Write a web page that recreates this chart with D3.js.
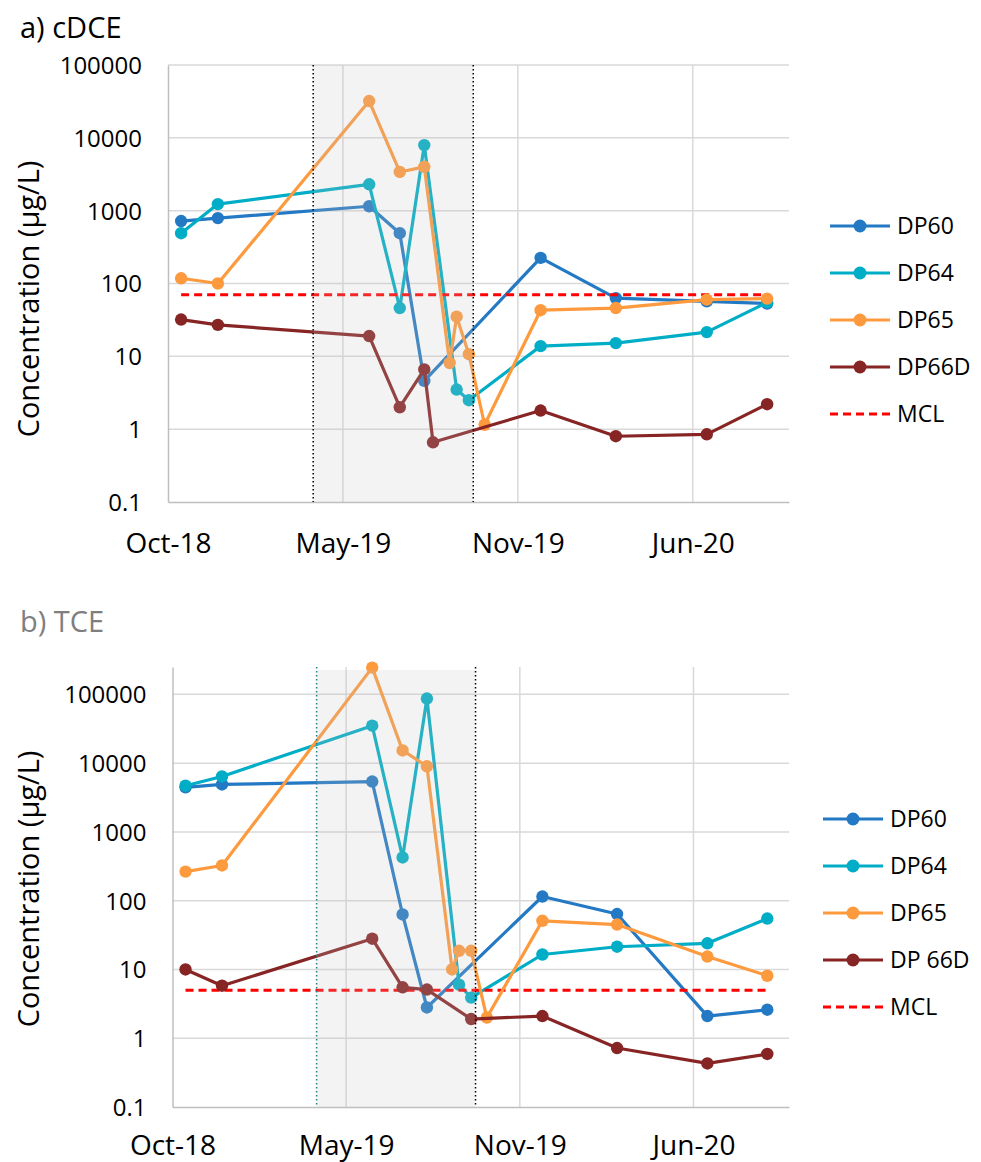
<!DOCTYPE html>
<html>
<head>
<meta charset="utf-8">
<script src="https://cdn.jsdelivr.net/npm/d3@7"></script>
<style>
  html, body { margin: 0; padding: 0; background: #ffffff; }
  svg { display: block; }
  text { font-family: "Open Sans", "Noto Sans", sans-serif; }
</style>
</head>
<body>
<svg id="chart" width="981" height="1162"></svg>
<script>
// ---------------- DATA ----------------
const sampleDates = ["2018-10-30","2018-12-11","2019-06-02","2019-07-07","2019-08-04","2019-08-14",
                     "2019-09-02","2019-09-10","2019-09-24","2019-10-12","2019-12-15","2020-03-10",
                     "2020-06-22","2020-08-30"];

// a) cDCE (µg/L), null = not sampled
const cdceDP60  = [720, 790, 1150, 490, 4.6, null, null, null, null, null, 225, 63, 57, 53];
const cdceDP64  = [490, 1230, 2300, 46, 7950, null, null, 3.5, 2.5, null, 13.8, 15.2, 21.5, 55];
const cdceDP65  = [118, 100, 32000, 3400, 4000, null, 8.1, 35, 10.7, 1.15, 43, 46, 60, 62];
const cdceDP66D = [32, 27, 19, 2.0, 6.6, 0.66, null, null, null, null, 1.8, 0.80, 0.85, 2.2];
const cdceMCL = 70;

// b) TCE (µg/L)
const tceDP60  = [4450, 4900, 5400, 63, 2.8, null, null, null, null, null, 115, 64, 2.1, 2.6];
const tceDP64  = [4700, 6400, 35000, 425, 87000, null, null, 6.0, 3.9, null, 16.5, 21.4, 24, 55];
const tceDP65  = [265, 325, 245000, 15300, 9000, null, 10, 18.7, 18.7, 2.0, 51, 45, 15.4, 8.1];
const tceDP66D = [10, 5.8, 28, 5.5, 5.1, null, null, null, 1.9, null, 2.1, 0.72, 0.43, 0.59];
const tceMCL = 5;

const seriesNamesA = ["DP60", "DP64", "DP65", "DP66D"];
const seriesNamesB = ["DP60", "DP64", "DP65", "DP 66D"];
const seriesColors = ["#2379c3", "#00adc6", "#fd9a3e", "#872424"];
const mclColor = "#ff0000";

const xDomain = ["2018-10-15", "2020-09-24"];
const xTickDates = ["2018-10-15", "2019-05-03", "2019-11-19", "2020-06-06"];
const xTickLabels = ["Oct-18", "May-19", "Nov-19", "Jun-20"];
const yTicks = [0.1, 1, 10, 100, 1000, 10000, 100000];
const yTickLabels = ["0.1", "1", "10", "100", "1000", "10000", "100000"];
const treatmentWindow = ["2019-03-30", "2019-09-29"];

// ---------------- DRAW ----------------
const parse = d3.utcParse("%Y-%m-%d");
const svg = d3.select("#chart");

function drawPanel(cfg) {
  const g = svg.append("g");
  const x = d3.scaleUtc().domain(xDomain.map(parse)).range([cfg.left, cfg.right]);
  const y = d3.scaleLog().domain([0.1, cfg.yMax]).range([cfg.bottom, cfg.top]);

  // title
  g.append("text").attr("x", 20).attr("y", cfg.titleY)
    .attr("font-size", 29).attr("fill", cfg.titleColor).text(cfg.title);

  // horizontal gridlines
  g.append("g").selectAll("line").data(yTicks.slice(1)).join("line")
    .attr("x1", cfg.left).attr("x2", cfg.right)
    .attr("y1", d => y(d)).attr("y2", d => y(d))
    .attr("stroke", "#d9d9d9").attr("stroke-width", 1.5);
  // vertical gridlines
  g.append("g").selectAll("line").data(xTickDates.slice(1).map(parse)).join("line")
    .attr("x1", d => x(d)).attr("x2", d => x(d))
    .attr("y1", cfg.top).attr("y2", cfg.bottom)
    .attr("stroke", "#d9d9d9").attr("stroke-width", 1.5);

  // axes
  const yAxis = d3.axisLeft(y).tickValues(yTicks)
    .tickFormat((d, i) => yTickLabels[i]).tickSize(0).tickPadding(26);
  const ya = g.append("g").attr("transform", `translate(${cfg.left},0)`).call(yAxis);
  ya.select(".domain").attr("stroke", "#bfbfbf").attr("stroke-width", 1.5);
  ya.selectAll("text").attr("font-size", 24).attr("fill", "#000")
    .attr("font-family", "Open Sans").attr("dy", "0.35em");

  const xAxis = d3.axisBottom(x).tickValues(xTickDates.map(parse))
    .tickFormat((d, i) => xTickLabels[i]).tickSize(0);
  const xa = g.append("g").attr("transform", `translate(0,${cfg.bottom})`).call(xAxis);
  xa.select(".domain").attr("stroke", "#bfbfbf").attr("stroke-width", 1.5);
  xa.selectAll("text").attr("font-size", 28).attr("fill", "#000")
    .attr("font-family", "Open Sans").attr("y", cfg.xLabelGap).attr("dy", null);

  // y-axis title
  g.append("text")
    .attr("transform", `translate(${cfg.yTitleX},${cfg.yTitleY}) rotate(-90)`)
    .attr("text-anchor", "middle").attr("font-size", 29).attr("fill", "#000")
    .text("Concentration (µg/L)");

  const dates = sampleDates.map(parse);
  const line = d3.line().x(d => x(d.date)).y(d => y(d.v));

  const seriesData = cfg.series.map(vals =>
    vals.map((v, i) => ({ date: dates[i], v })).filter(d => d.v !== null));

  function drawSeries(k) {
    const sg = g.append("g");
    sg.append("path").datum(seriesData[k]).attr("d", line)
      .attr("fill", "none").attr("stroke", seriesColors[k]).attr("stroke-width", 3.2)
      .attr("stroke-linejoin", "round");
    sg.selectAll("circle").data(seriesData[k]).join("circle")
      .attr("cx", d => x(d.date)).attr("cy", d => y(d.v)).attr("r", 6.2)
      .attr("fill", seriesColors[k]);
  }
  drawSeries(0);
  drawSeries(1);
  // MCL line
  const firstD = dates[0], lastD = dates[dates.length - 1];
  g.append("line")
    .attr("x1", x(firstD)).attr("x2", x(lastD))
    .attr("y1", y(cfg.mcl)).attr("y2", y(cfg.mcl))
    .attr("stroke", mclColor).attr("stroke-width", 3).attr("stroke-dasharray", "8,5");
  drawSeries(2);
  drawSeries(3);

  // treatment window shading (overlay)
  const w0 = x(parse(treatmentWindow[0])), w1 = x(parse(treatmentWindow[1]));
  g.append("rect").attr("x", w0).attr("y", cfg.shadeTop)
    .attr("width", w1 - w0).attr("height", cfg.bottom - cfg.shadeTop)
    .attr("fill", "#c4c4c4").attr("opacity", 0.2);
  g.append("line").attr("x1", w0).attr("x2", w0).attr("y1", cfg.top).attr("y2", cfg.bottom)
    .attr("stroke", cfg.leftDotColor).attr("stroke-width", 1.5).attr("stroke-dasharray", "1.5,2.5");
  g.append("line").attr("x1", w1).attr("x2", w1).attr("y1", cfg.top).attr("y2", cfg.bottom)
    .attr("stroke", "#000").attr("stroke-width", 1.5).attr("stroke-dasharray", "1.5,2.5");

  // legend
  const lg = g.append("g");
  cfg.names.forEach((name, k) => {
    const ly = cfg.legendY0 + k * cfg.legendStep;
    lg.append("line").attr("x1", cfg.legendX).attr("x2", cfg.legendX + 60)
      .attr("y1", ly).attr("y2", ly).attr("stroke", seriesColors[k]).attr("stroke-width", 3);
    lg.append("circle").attr("cx", cfg.legendX + 30).attr("cy", ly).attr("r", 6.5)
      .attr("fill", seriesColors[k]);
    lg.append("text").attr("x", cfg.legendX + 67).attr("y", ly).attr("dy", "0.35em")
      .attr("font-size", 23).attr("fill", "#000").text(name);
  });
  const my = cfg.legendY0 + 4 * cfg.legendStep;
  lg.append("line").attr("x1", cfg.legendX).attr("x2", cfg.legendX + 60)
    .attr("y1", my).attr("y2", my).attr("stroke", mclColor).attr("stroke-width", 3)
    .attr("stroke-dasharray", "8,5");
  lg.append("text").attr("x", cfg.legendX + 67).attr("y", my).attr("dy", "0.35em")
    .attr("font-size", 23).attr("fill", "#000").text("MCL");
}

drawPanel({
  title: "a) cDCE", titleColor: "#000", titleY: 38,
  left: 168, right: 789, top: 65, bottom: 502, shadeTop: 65, yMax: 100000,
  xLabelGap: 51, yTitleX: 39, yTitleY: 299,
  series: [cdceDP60, cdceDP64, cdceDP65, cdceDP66D], mcl: cdceMCL,
  names: seriesNamesA, legendX: 830, legendY0: 226, legendStep: 47,
  leftDotColor: "#000"
});

drawPanel({
  title: "b) TCE", titleColor: "#7f7f7f", titleY: 632,
  left: 172.5, right: 789, top: 667, bottom: 1107, shadeTop: 670, yMax: 250000,
  xLabelGap: 48, yTitleX: 39, yTitleY: 889,
  series: [tceDP60, tceDP64, tceDP65, tceDP66D], mcl: tceMCL,
  names: seriesNamesB, legendX: 823, legendY0: 819, legendStep: 47,
  leftDotColor: "#1f7f8c"
});
</script>
</body>
</html>
